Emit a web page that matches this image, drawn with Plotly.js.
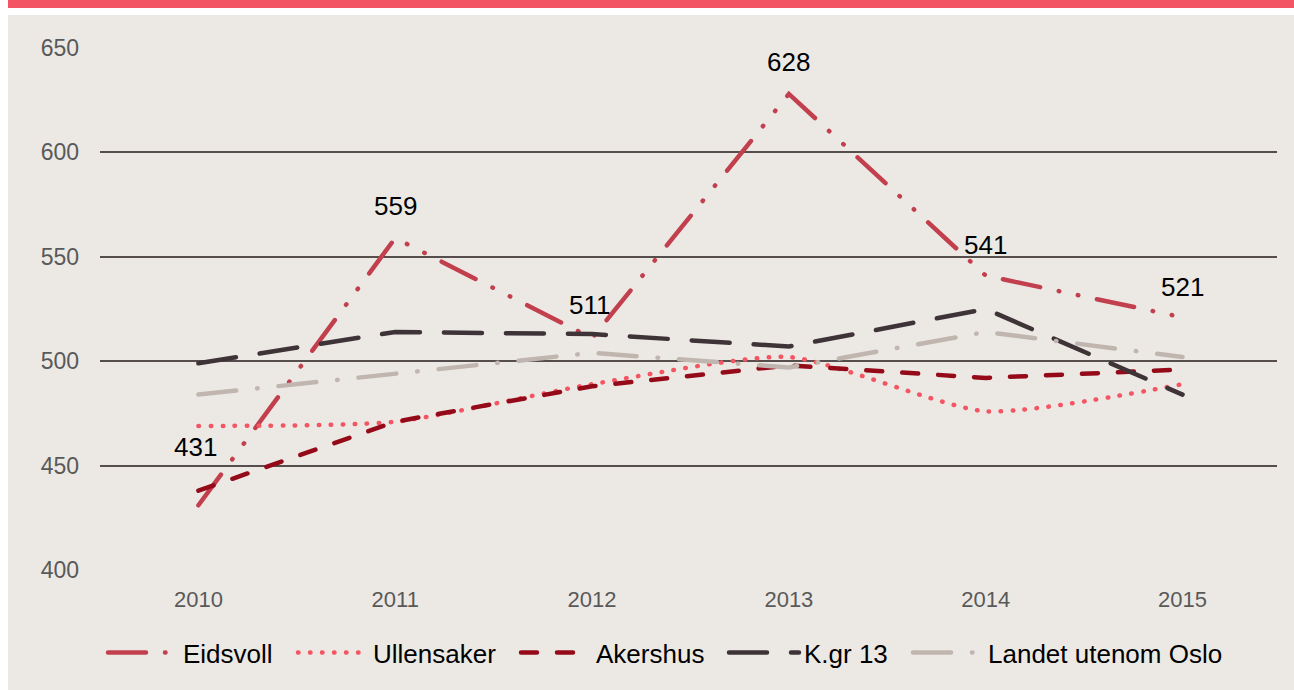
<!DOCTYPE html>
<html>
<head>
<meta charset="utf-8">
<script src="https://cdn.plot.ly/plotly-3.0.1.min.js"></script>
<style>
html,body{margin:0;padding:0;background:#ffffff;}
#chart{width:1294px;height:690px;}
.scatterlayer path.js-line, .legendlines path{stroke-linecap:round;}
</style>
</head>
<body>
<div id="chart"></div>
<script>
const years = [2010, 2011, 2012, 2013, 2014, 2015];
const eidsvoll = [431, 559, 511, 628, 541, 521];
const ullensaker = [469, 471, 489, 502, 476, 489];
const akershus = [438, 471, 488, 498, 492, 496];
const kgr13 = [499, 514, 513, 507, 525, 484];
const landet = [484, 494, 504, 497, 514, 502];
const seriesNames = ['Eidsvoll', 'Ullensaker', 'Akershus', 'K.gr 13', 'Landet utenom Oslo'];
const labelShift = [58, 32, 33, 32, 31, 30];

const W = 4.5;
const traces = [
  {x: years, y: eidsvoll, name: seriesNames[0], mode: 'lines', legend: 'legend',
   line: {color: '#C2404E', width: W, dash: '38px,19px,0.5px,19px,0.5px,19px'}},
  {x: years, y: ullensaker, name: seriesNames[1], mode: 'lines', legend: 'legend2',
   line: {color: '#F45562', width: W, dash: '0.5px,11.5px', shape: 'spline', smoothing: 0.6}},
  {x: years, y: akershus, name: seriesNames[2], mode: 'lines', legend: 'legend3',
   line: {color: '#950A19', width: W, dash: '16px,20px'}},
  {x: years, y: kgr13, name: seriesNames[3], mode: 'lines', legend: 'legend4',
   line: {color: '#3E3337', width: W, dash: '38px,24px'}},
  {x: years, y: landet, name: seriesNames[4], mode: 'lines', legend: 'legend5',
   line: {color: '#C1B6AF', width: W, dash: '38px,21px,0.5px,21px'}}
];

const annotations = years.map((yr, i) => ({
  x: yr, y: eidsvoll[i], xref: 'x', yref: 'y', text: String(eidsvoll[i]),
  showarrow: false, yshift: labelShift[i], xshift: (i === 0 || i === 2) ? -3 : 0,
  font: {family: 'Liberation Sans, Arial, sans-serif', size: 26, color: '#000000'}
}));

function leg(px) {
  return {orientation: 'h', x: (px - 100) / 1177, xanchor: 'left', y: -0.158, yanchor: 'middle',
          font: {family: 'Liberation Sans, Arial, sans-serif', size: 26, color: '#000000'},
          bgcolor: 'rgba(0,0,0,0)', itemwidth: 70};
}

const layout = {
  width: 1294, height: 690,
  margin: {l: 100, r: 17, t: 48, b: 120},
  paper_bgcolor: '#ECE9E5',
  plot_bgcolor: 'rgba(0,0,0,0)',
  showlegend: true,
  legend: leg(103), legend2: leg(293), legend3: leg(516), legend4: leg(724), legend5: leg(908),
  xaxis: {range: [2009.5, 2015.48], tickvals: years, ticktext: years.map(String),
          showgrid: false, zeroline: false, showline: false, ticks: '',
          ticklabelstandoff: 14,
          tickfont: {family: 'Liberation Sans, Arial, sans-serif', size: 22, color: '#595959'}},
  yaxis: {range: [400, 650], dtick: 50, tick0: 400, showgrid: true, gridcolor: '#564D4D', gridwidth: 2,
          zeroline: false, showline: false, ticks: '', ticklabelstandoff: 20,
          tickfont: {family: 'Liberation Sans, Arial, sans-serif', size: 23, color: '#595959'}},
  annotations: annotations,
  shapes: [
    {type: 'rect', xref: 'paper', yref: 'paper', x0: -0.1, x1: 1.02, y0: 1 + 33/522, y1: 1.1,
     fillcolor: '#FFFFFF', line: {width: 0}, layer: 'above'},
    {type: 'rect', xref: 'paper', yref: 'paper', x0: -0.1, x1: -92/1177, y0: -0.3, y1: 1.1,
     fillcolor: '#FFFFFF', line: {width: 0}, layer: 'above'},
    {type: 'rect', xref: 'paper', yref: 'paper', x0: -92/1177, x1: 1.02, y0: 1 + 40/522, y1: 1.1,
     fillcolor: '#F35565', line: {width: 0}, layer: 'above'}
  ]
};

Plotly.newPlot('chart', traces, layout, {displayModeBar: false, staticPlot: true});
</script>
</body>
</html>
